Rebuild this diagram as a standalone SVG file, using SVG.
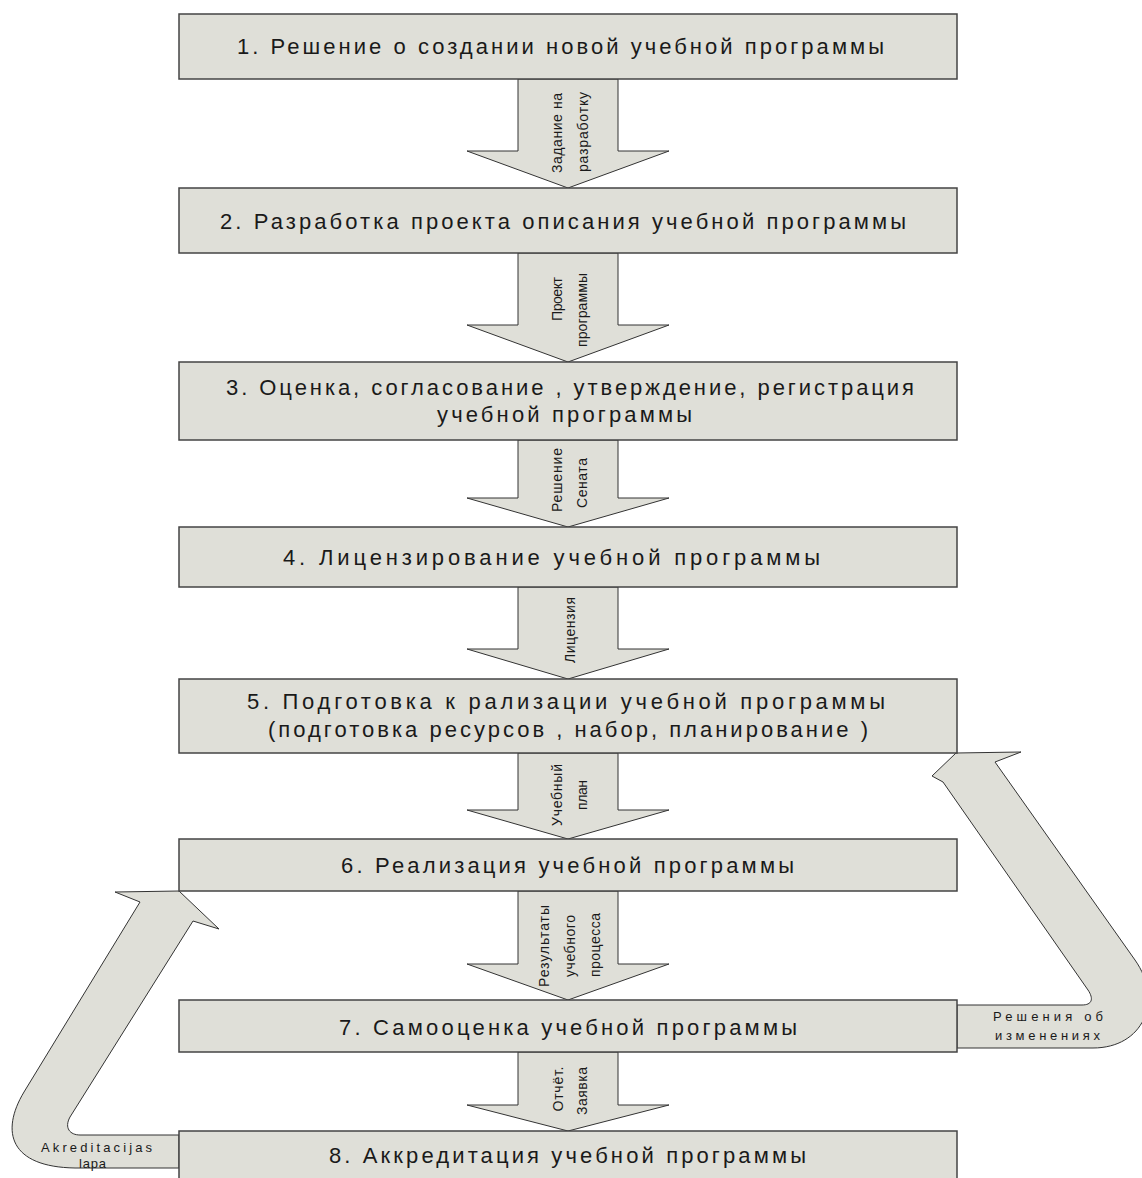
<svg xmlns="http://www.w3.org/2000/svg" width="1142" height="1178" viewBox="0 0 1142 1178">
<style>
.box{fill:#dfdfd8;stroke:#444;stroke-width:1.5}
.arr{fill:#dfdfd8;stroke:#333;stroke-width:1}
.bt{font-family:"Liberation Sans",Arial,sans-serif;font-size:22px;fill:#1a1a1a}
.lt{font-family:"Liberation Sans",Arial,sans-serif;font-size:14px;fill:#1a1a1a}
.st{font-family:"Liberation Sans",Arial,sans-serif;font-size:13px;fill:#1a1a1a}
</style>
<rect width="1142" height="1178" fill="#fff"/>
<g id="connectors">
<polygon class="arr" points="518,79 618,79 618,151 669,151 568,188 467,151 518,151"/>
<polygon class="arr" points="518,253 618,253 618,325 669,325 568,362 467,325 518,325"/>
<polygon class="arr" points="518,440 618,440 618,498 669,498 568,527 467,498 518,498"/>
<polygon class="arr" points="518,587 618,587 618,649 669,649 568,679 467,649 518,649"/>
<polygon class="arr" points="518,753 618,753 618,810 669,810 568,839 467,810 518,810"/>
<polygon class="arr" points="518,891 618,891 618,964 669,964 568,1000 467,964 518,964"/>
<polygon class="arr" points="518,1052 618,1052 618,1105 669,1105 568,1131 467,1105 518,1105"/>
<path class="arr" d="M957,1005 L1082,1005 C1092,1005 1094,999 1088,990 L943,782 L932,776 L956,753 L1021,752 L995,762 L1135,960 C1164,1001 1143,1048 1093,1048 L957,1048 Z"/>
<path class="arr" d="M179,891 L115,892 L140,902 L24,1092 C0,1132 10,1167 75,1168 L179,1168 L179,1135 L80,1135 C70,1135 64,1128 70,1117 L193,921 L219,929 Z"/>
<g class="lt">
<text transform="translate(562,133) rotate(-90)" text-anchor="middle" textLength="80" lengthAdjust="spacing">Задание на</text>
<text transform="translate(588,132) rotate(-90)" text-anchor="middle" textLength="80" lengthAdjust="spacing">разработку</text>
<text transform="translate(562,299) rotate(-90)" text-anchor="middle" textLength="44" lengthAdjust="spacing">Проект</text>
<text transform="translate(587,310) rotate(-90)" text-anchor="middle" textLength="74" lengthAdjust="spacing">программы</text>
<text transform="translate(562,480) rotate(-90)" text-anchor="middle" textLength="64" lengthAdjust="spacing">Решение</text>
<text transform="translate(587,483) rotate(-90)" text-anchor="middle" textLength="50" lengthAdjust="spacing">Сената</text>
<text transform="translate(575,630) rotate(-90)" text-anchor="middle" textLength="66" lengthAdjust="spacing">Лицензия</text>
<text transform="translate(562,795) rotate(-90)" text-anchor="middle" textLength="62" lengthAdjust="spacing">Учебный</text>
<text transform="translate(587,795) rotate(-90)" text-anchor="middle" textLength="30" lengthAdjust="spacing">план</text>
<text transform="translate(549,946) rotate(-90)" text-anchor="middle" textLength="82" lengthAdjust="spacing">Результаты</text>
<text transform="translate(575,946) rotate(-90)" text-anchor="middle" textLength="62" lengthAdjust="spacing">учебного</text>
<text transform="translate(600,945) rotate(-90)" text-anchor="middle" textLength="64" lengthAdjust="spacing">процесса</text>
<text transform="translate(563,1089) rotate(-90)" text-anchor="middle" textLength="45" lengthAdjust="spacing">Отчёт.</text>
<text transform="translate(587,1091) rotate(-90)" text-anchor="middle" textLength="48" lengthAdjust="spacing">Заявка</text>
</g>
<g class="st">
<text x="993" y="1021" textLength="110" lengthAdjust="spacing">Решения об</text>
<text x="995" y="1040" textLength="105" lengthAdjust="spacing">изменениях</text>
<text x="41" y="1152" textLength="111" lengthAdjust="spacing">Akreditacijas</text>
<text x="79" y="1168" textLength="27" lengthAdjust="spacing">lapa</text>
</g>
</g>
<g id="node1"><rect class="box" x="179" y="14" width="778" height="65"/><text class="bt" x="237" y="54" textLength="647" lengthAdjust="spacing">1. Решение о создании новой учебной программы</text></g>
<g id="node2"><rect class="box" x="179" y="188" width="778" height="65"/><text class="bt" x="220" y="229" textLength="686" lengthAdjust="spacing">2. Разработка проекта описания учебной программы</text></g>
<g id="node3"><rect class="box" x="179" y="362" width="778" height="78"/><text class="bt" x="226" y="395" textLength="688" lengthAdjust="spacing">3. Оценка, согласование , утверждение, регистрация</text><text class="bt" x="437" y="422" textLength="255" lengthAdjust="spacing">учебной программы</text></g>
<g id="node4"><rect class="box" x="179" y="527" width="778" height="60"/><text class="bt" x="283" y="565" textLength="537" lengthAdjust="spacing">4. Лицензирование учебной программы</text></g>
<g id="node5"><rect class="box" x="179" y="679" width="778" height="74"/><text class="bt" x="247" y="709" textLength="638" lengthAdjust="spacing">5. Подготовка к рализации учебной программы</text><text class="bt" x="268" y="737" textLength="600" lengthAdjust="spacing">(подготовка ресурсов , набор, планирование )</text></g>
<g id="node6"><rect class="box" x="179" y="839" width="778" height="52"/><text class="bt" x="341" y="873" textLength="453" lengthAdjust="spacing">6. Реализация учебной программы</text></g>
<g id="node7"><rect class="box" x="179" y="1000" width="778" height="52"/><text class="bt" x="339" y="1035" textLength="458" lengthAdjust="spacing">7. Самооценка учебной программы</text></g>
<g id="node8"><rect class="box" x="179" y="1131" width="778" height="60"/><text class="bt" x="329" y="1163" textLength="477" lengthAdjust="spacing">8. Аккредитация учебной программы</text></g>
</svg>
